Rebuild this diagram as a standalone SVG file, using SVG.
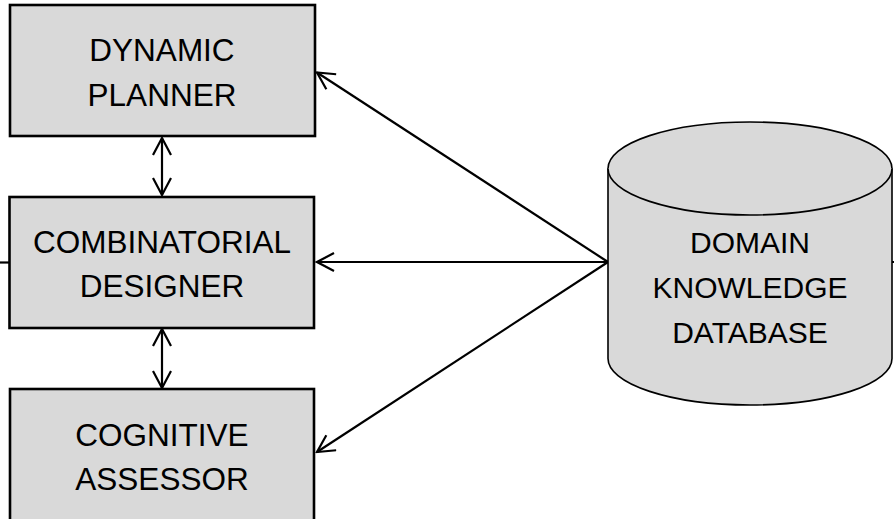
<svg xmlns="http://www.w3.org/2000/svg" width="894" height="519" viewBox="0 0 894 519">
<defs>
<style>
.box{fill:#d9d9d9;stroke:#000;stroke-width:2.6}
.cyl{fill:#d9d9d9;stroke:#000;stroke-width:1.6}
.lbl{font-family:"Liberation Sans",Arial,sans-serif;font-size:31.5px;fill:#000;text-anchor:middle}
.lbl2{font-family:"Liberation Sans",Arial,sans-serif;font-size:30px;fill:#000;text-anchor:middle}
.con{fill:none;stroke:#000;stroke-width:2.2}
</style>
<marker id="ah" viewBox="0 0 20 20" refX="18" refY="10" markerWidth="20" markerHeight="20" markerUnits="userSpaceOnUse" orient="auto-start-reverse">
<path d="M1,1 L18,10 L1,19" fill="none" stroke="#000" stroke-width="2.2"/>
</marker>
</defs>
<rect width="894" height="519" fill="#fff"/>
<g id="connectors">
<line class="con" x1="0" y1="262.5" x2="9" y2="262.5"/>
<line class="con" x1="892" y1="262" x2="894" y2="262"/>
<line class="con" x1="162" y1="138" x2="162" y2="195" marker-start="url(#ah)" marker-end="url(#ah)"/>
<line class="con" x1="162" y1="329" x2="162" y2="388" marker-start="url(#ah)" marker-end="url(#ah)"/>
<line class="con" x1="608" y1="262" x2="317" y2="72.5" marker-end="url(#ah)"/>
<line class="con" x1="608" y1="262" x2="317" y2="262" marker-end="url(#ah)"/>
<line class="con" x1="608" y1="262" x2="317" y2="452" marker-end="url(#ah)"/>
</g>
<g id="dynamic-planner">
<rect class="box" x="10" y="5" width="305" height="131"/>
<text class="lbl" x="162" y="61">DYNAMIC</text>
<text class="lbl" x="162" y="106">PLANNER</text>
</g>
<g id="combinatorial-designer">
<rect class="box" x="9.5" y="197" width="304.5" height="131"/>
<text class="lbl" x="162" y="253">COMBINATORIAL</text>
<text class="lbl" x="162" y="297">DESIGNER</text>
</g>
<g id="cognitive-assessor">
<rect class="box" x="10" y="389" width="304" height="140"/>
<text class="lbl" x="162" y="446">COGNITIVE</text>
<text class="lbl" x="162" y="490">ASSESSOR</text>
</g>
<g id="domain-knowledge-database">
<path class="cyl" d="M608,168.5 L608,358.5 A142,46.5 0 0 0 892,358.5 L892,168.5 A142,46.5 0 0 0 608,168.5 Z"/>
<path class="cyl" d="M608,168.5 A142,46.5 0 0 0 892,168.5"/>
<text class="lbl2" x="750" y="253">DOMAIN</text>
<text class="lbl2" x="750" y="298">KNOWLEDGE</text>
<text class="lbl2" x="750" y="343">DATABASE</text>
</g>
</svg>
